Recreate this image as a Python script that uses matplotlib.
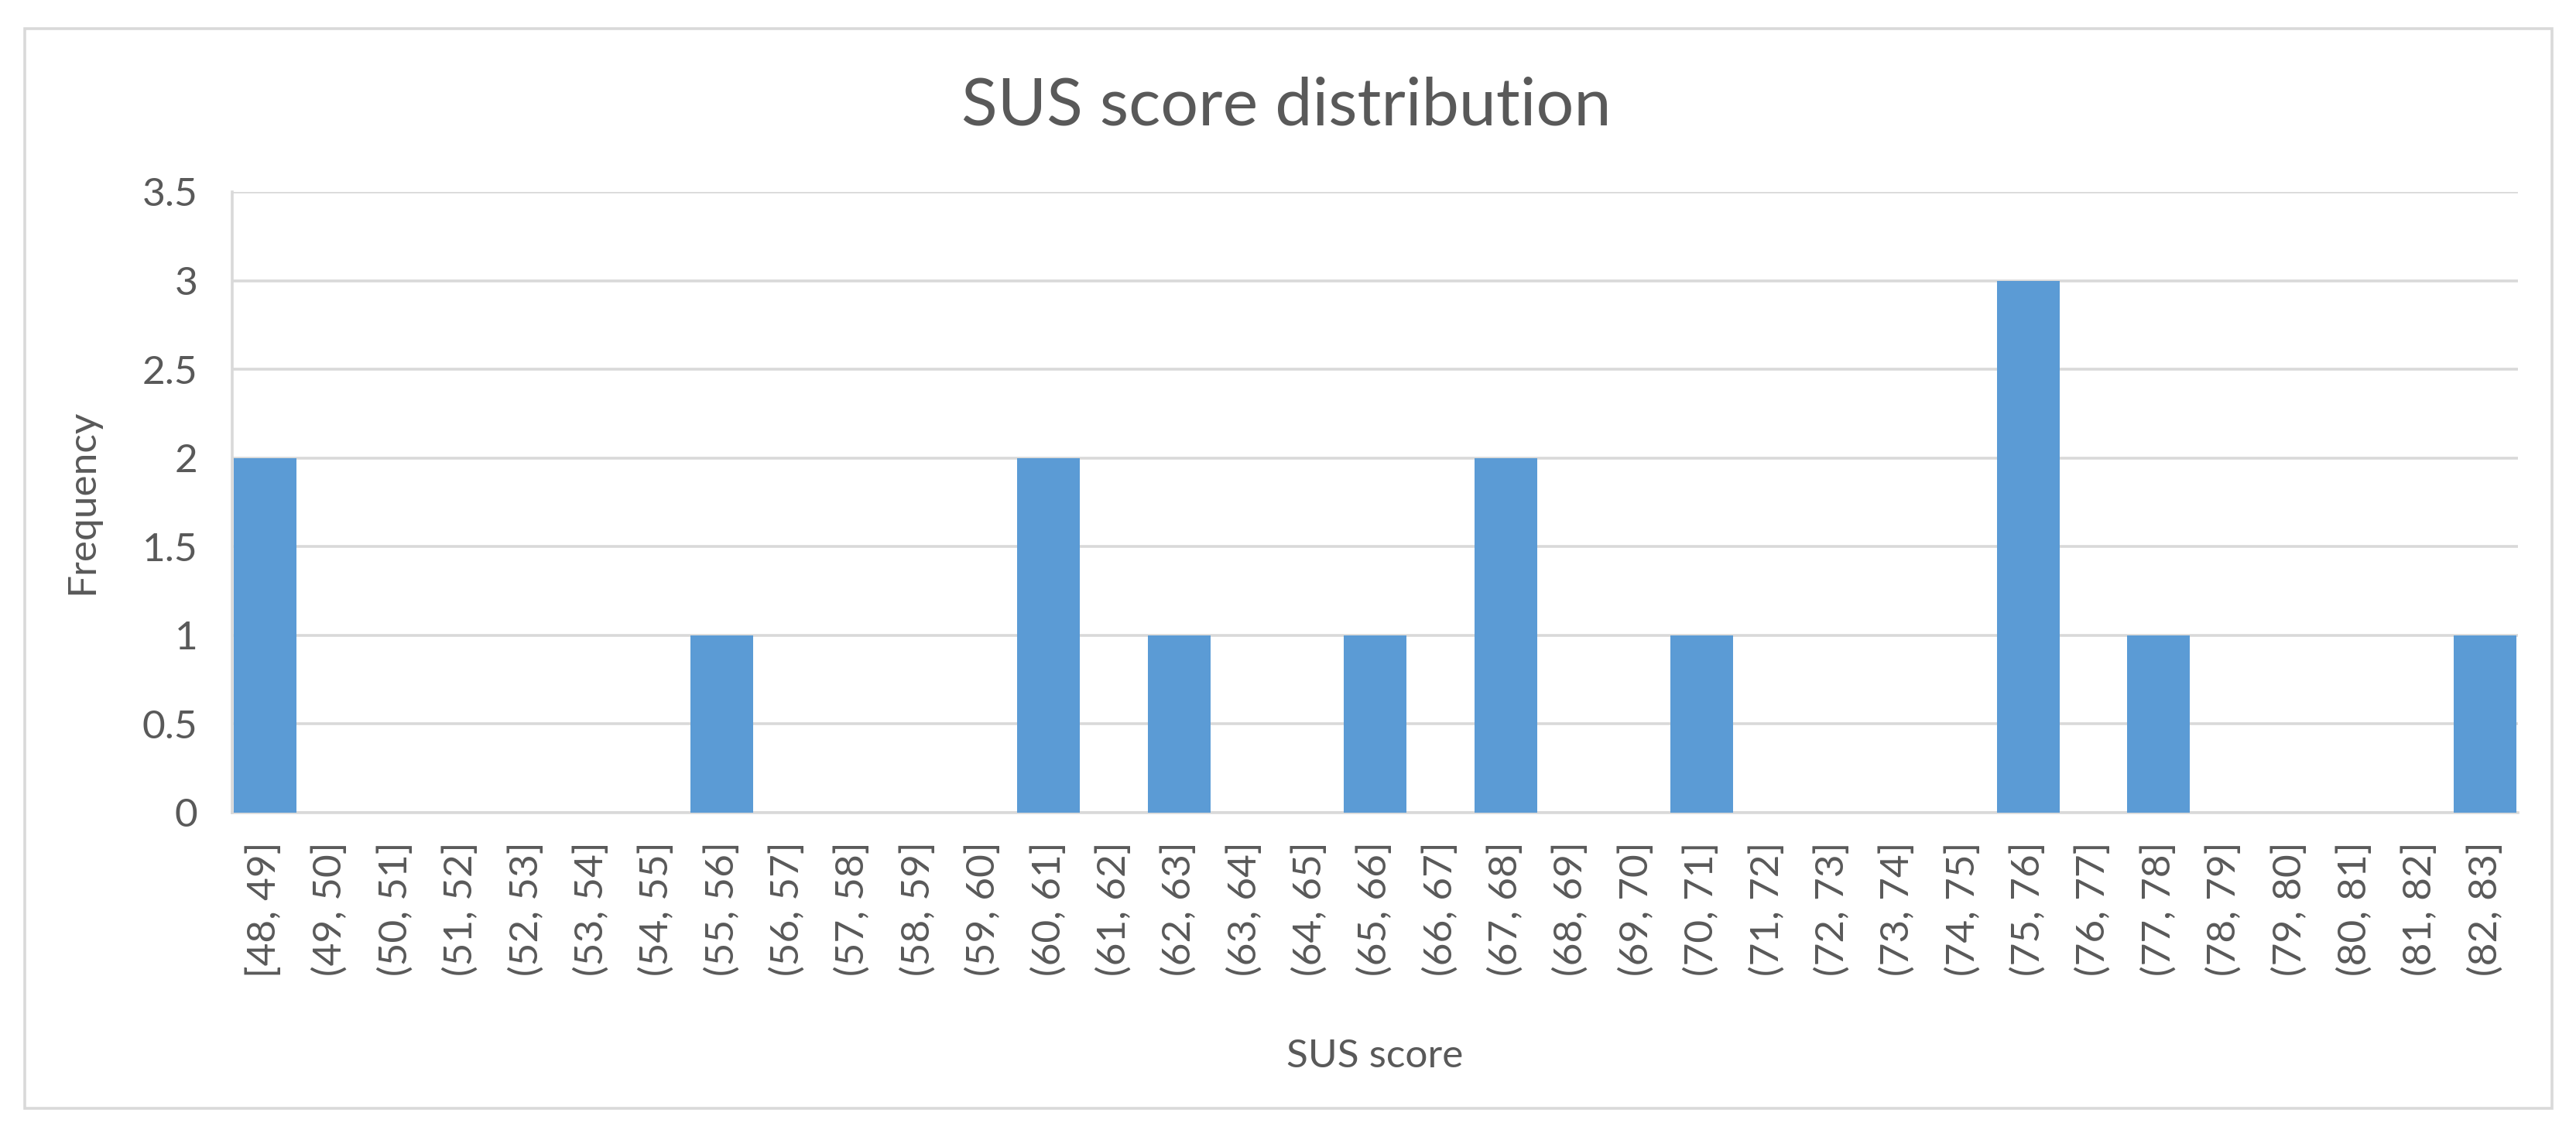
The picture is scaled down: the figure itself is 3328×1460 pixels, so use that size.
import matplotlib.pyplot as plt
from matplotlib.patches import Rectangle
import numpy as np

# bins of SUS score and counts per bin
bins = ['[48, 49]'] + ['(%d, %d]' % (a, a + 1) for a in range(49, 83)]
counts = [2, 0, 0, 0, 0, 0, 0, 1, 0, 0, 0, 0, 2, 0, 1, 0, 0, 1, 0, 2,
          0, 0, 1, 0, 0, 0, 0, 3, 0, 1, 0, 0, 0, 0, 1]
yticks = [0, 0.5, 1, 1.5, 2, 2.5, 3, 3.5]

text_color = '#595959'
grid_color = '#D9D9D9'
bar_color = '#5B9BD5'

plt.rcParams['font.family'] = ['Lato', 'DejaVu Sans']

W, H = 3328, 1460
fig = plt.figure(figsize=(W / 200, H / 200), dpi=200)

# outer chart border
fig.patches.append(Rectangle((32 / W, 1 - 1432 / H), (3297 - 32) / W, (1432 - 37) / H,
                             transform=fig.transFigure, fill=False,
                             edgecolor=grid_color, linewidth=1.3))

ax = fig.add_axes([300 / W, 1 - 1050 / H, (3253 - 300) / W, (1050 - 248) / H])

x = np.arange(len(bins))
ax.bar(x, counts, width=0.96, color=bar_color, zorder=3)

ax.set_xlim(-0.5, len(bins) - 0.5)
ax.set_ylim(0, 3.5)
ax.set_yticks(yticks)
ax.set_yticklabels(['0', '0.5', '1', '1.5', '2', '2.5', '3', '3.5'])
ax.set_xticks(x)
ax.set_xticklabels(bins, rotation=90)

ax.tick_params(axis='both', length=0, colors=text_color, labelsize=18.5)
ax.tick_params(axis='x', pad=13.5)
ax.tick_params(axis='y', pad=16)

ax.grid(axis='y', color=grid_color, linewidth=1.3, zorder=0)
for s in ['top', 'right']:
    ax.spines[s].set_visible(False)
for s in ['left', 'bottom']:
    ax.spines[s].set_color(grid_color)
    ax.spines[s].set_linewidth(1.3)

fig.text(1662 / W, 1 - 162 / H, 'SUS score distribution', ha='center', va='baseline',
         fontsize=31, color=text_color)
fig.text(1776 / W, 1 - 1379 / H, 'SUS score', ha='center', va='baseline',
         fontsize=18.5, color=text_color)
fig.text(106 / W, 1 - 648 / H, 'Frequency', ha='center', va='center', rotation=90,
         fontsize=18.5, color=text_color)

fig.savefig('out.png', dpi=200, facecolor='white')
